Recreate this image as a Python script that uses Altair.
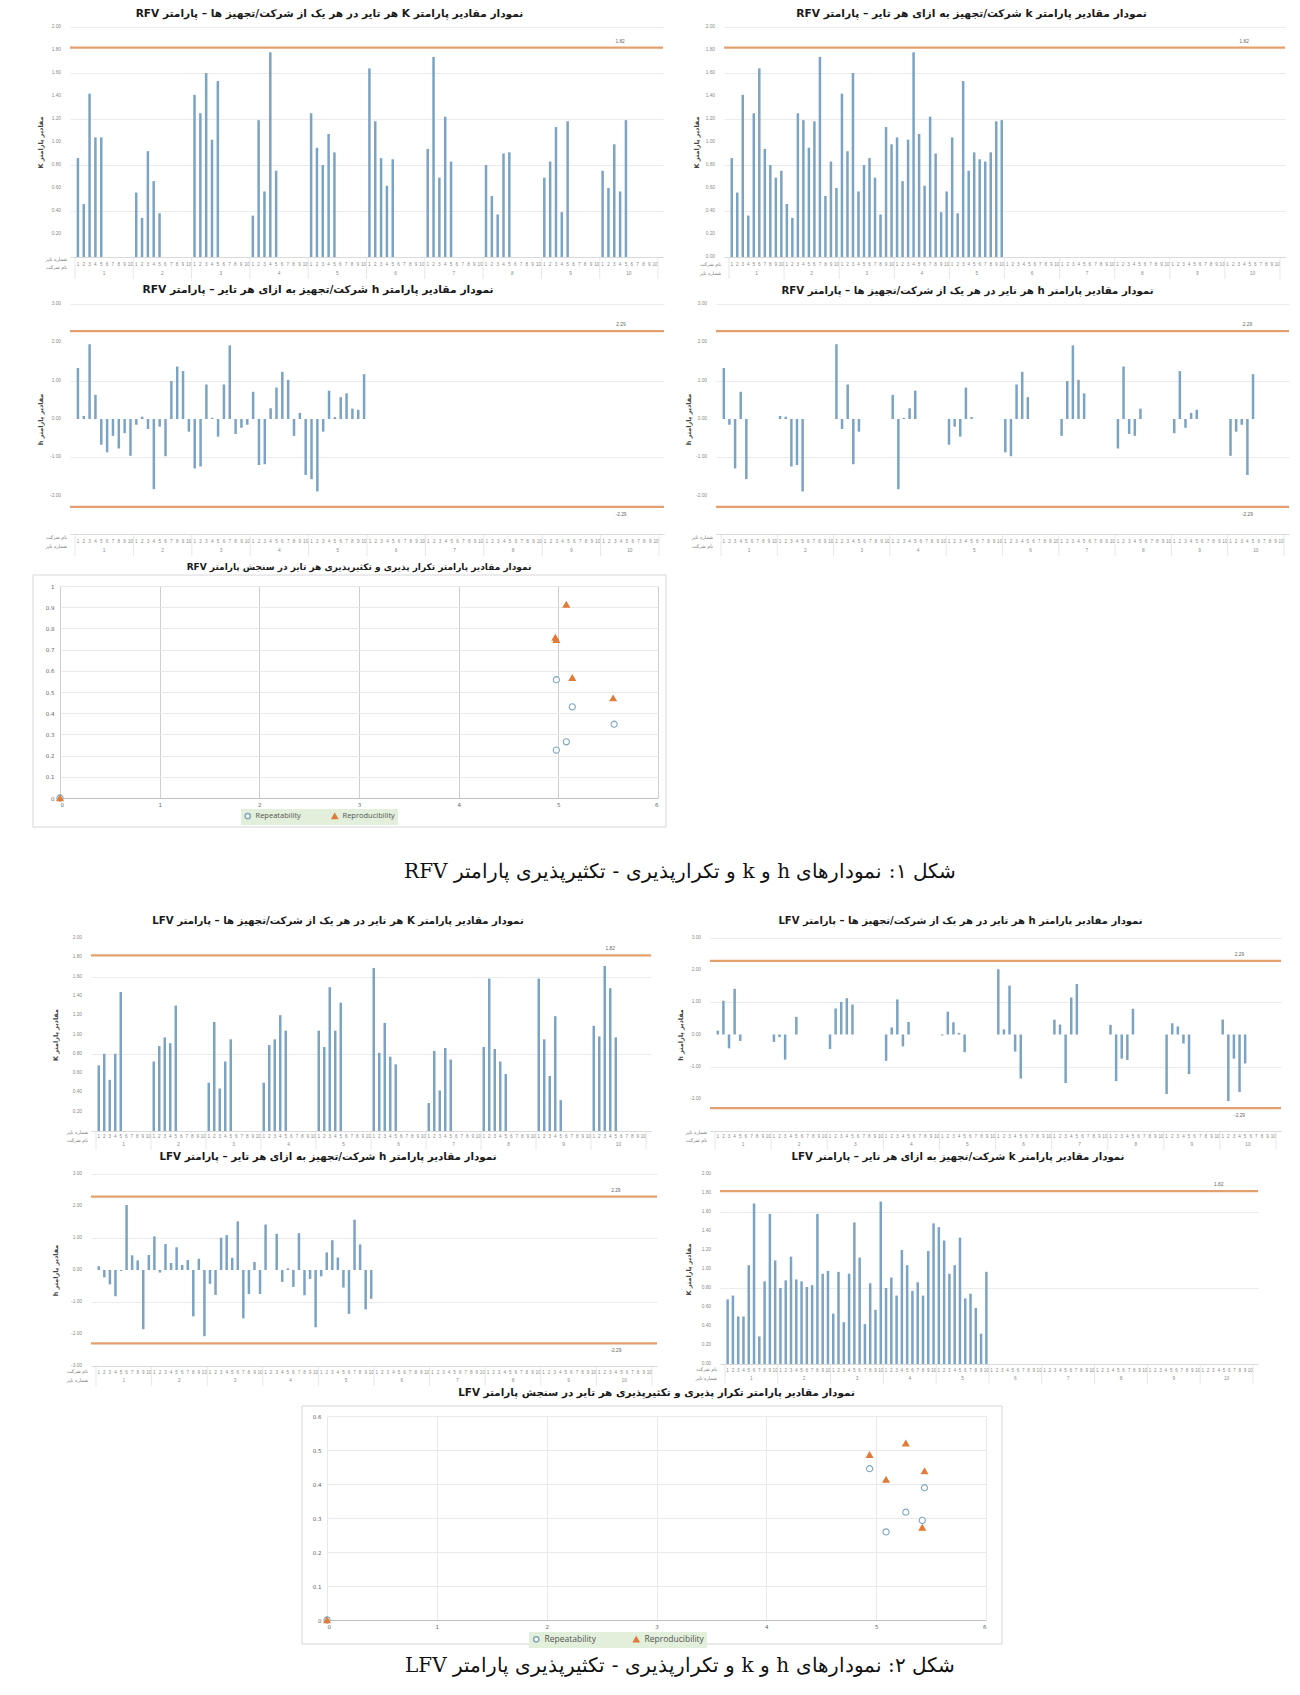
import altair as alt
import pandas as pd

# ---------------- data (rows = tire number, entries = company 1..10) ----------------
RFV_K_T1 = [0.86, 0.56, 1.41, 0.36, 1.25, 1.64, 0.94, 0.80, 0.69, 0.75]
RFV_K_T2 = [0.46, 0.34, 1.25, 1.19, 0.95, 1.18, 1.74, 0.53, 0.83, 0.60]
RFV_K_T3 = [1.42, 0.92, 1.60, 0.57, 0.80, 0.86, 0.69, 0.37, 1.13, 0.98]
RFV_K_T4 = [1.04, 0.66, 1.02, 1.78, 1.07, 0.62, 1.22, 0.90, 0.39, 0.57]
RFV_K_T5 = [1.04, 0.38, 1.53, 0.75, 0.91, 0.85, 0.83, 0.91, 1.18, 1.19]

RFV_H_T1 = [1.33, 0.08, 1.95, 0.63, -0.67, -0.87, -0.44, -0.77, -0.37, -0.96]
RFV_H_T2 = [-0.15, 0.06, -0.26, -1.83, -0.20, -0.97, 0.99, 1.37, 1.25, -0.33]
RFV_H_T3 = [-1.29, -1.24, 0.90, 0.03, -0.46, 0.90, 1.92, -0.39, -0.23, -0.15]
RFV_H_T4 = [0.71, -1.20, -1.18, 0.28, 0.82, 1.23, 1.02, -0.44, 0.16, -1.46]
RFV_H_T5 = [-1.57, -1.89, -0.33, 0.74, 0.05, 0.57, 0.67, 0.27, 0.24, 1.17]

LFV_K_T1 = [0.68, 0.72, 0.50, 0.50, 1.04, 1.69, 0.29, 0.87, 1.58, 1.09]
LFV_K_T2 = [0.80, 0.88, 1.13, 0.89, 0.87, 0.81, 0.83, 1.58, 0.95, 0.98]
LFV_K_T3 = [0.53, 0.97, 0.44, 0.95, 1.49, 1.12, 0.42, 0.85, 0.57, 1.71]
LFV_K_T4 = [0.80, 0.91, 0.72, 1.20, 1.04, 0.77, 0.86, 0.72, 1.19, 1.48]
LFV_K_T5 = [1.44, 1.30, 0.95, 1.04, 1.33, 0.69, 0.74, 0.59, 0.32, 0.97]

LFV_H_T1 = [0.12, -0.23, -0.45, -0.82, -0.03, 2.03, 0.46, 0.30, -1.85, 0.47]
LFV_H_T2 = [1.05, -0.08, 0.81, 0.22, 0.71, 0.16, 0.31, -1.45, 0.35, -2.07]
LFV_H_T3 = [-0.43, -0.78, 1.01, 1.09, 0.38, 1.52, -1.51, -0.75, 0.25, -0.75]
LFV_H_T4 = [1.42, 0.00, 1.13, -0.37, 0.05, -0.53, 1.15, -0.79, -0.28, -1.79]
LFV_H_T5 = [-0.20, 0.55, 0.93, 0.39, -0.55, -1.37, 1.57, 0.80, -1.23, -0.90]

K_LIMIT = [1.82]
H_LIMITS = [2.29, -2.29]

RFV_REP_X = [4.98, 5.14, 5.56, 5.08, 4.98, 0.0]
RFV_REP_Y = [0.558, 0.430, 0.348, 0.265, 0.226, 0.0]
RFV_REPRO_X = [5.08, 4.97, 4.98, 5.14, 5.55, 0.0]
RFV_REPRO_Y = [0.913, 0.757, 0.746, 0.567, 0.471, 0.0]

LFV_REP_X = [4.94, 5.44, 5.27, 5.42, 5.09, 0.0]
LFV_REP_Y = [0.445, 0.389, 0.317, 0.293, 0.259, 0.0]
LFV_REPRO_X = [4.94, 5.27, 5.44, 5.09, 5.42, 0.0]
LFV_REPRO_Y = [0.486, 0.520, 0.438, 0.413, 0.272, 0.0]

GROUP_LABELS = [str(i) for i in range(1, 11)]
SLOT_LABELS = [str(i) for i in range(1, 11)]
SERIES = ["Repeatability", "Reproducibility"]

T_P1 = "نمودار مقادیر پارامتر K هر تایر در هر یک از شرکت/تجهیز ها – پارامتر RFV"
T_P2 = "نمودار مقادیر پارامتر k شرکت/تجهیز به ازای هر تایر – پارامتر RFV"
T_P3 = "نمودار مقادیر پارامتر h  شرکت/تجهیز  به ازای هر تایر – پارامتر RFV"
T_P4 = "نمودار مقادیر پارامتر h هر تایر در هر یک از شرکت/تجهیز ها – پارامتر RFV"
T_P5 = "نمودار مقادیر پارامتر تکرار پذیری و تکثیرپذیری هر تایر در سنجش پارامتر RFV"
T_P6 = "نمودار مقادیر پارامتر K  هر تایر در هر یک از شرکت/تجهیز ها – پارامتر LFV"
T_P7 = "نمودار مقادیر پارامتر h هر تایر در هر یک از شرکت/تجهیز ها – پارامتر LFV"
T_P8 = "نمودار مقادیر پارامتر h  شرکت/تجهیز  به ازای هر تایر – پارامتر LFV"
T_P9 = "نمودار مقادیر پارامتر k شرکت/تجهیز به ازای هر تایر – پارامتر LFV"
T_P10 = "نمودار مقادیر پارامتر تکرار پذیری و تکثیرپذیری هر تایر در سنجش پارامتر LFV"
CAPTION1 = "شکل ۱: نمودارهای h و k و تکرارپذیری - تکثیرپذیری پارامتر RFV"
CAPTION2 = "شکل ۲: نمودارهای h و k و تکرارپذیری - تکثیرپذیری پارامتر LFV"
YT_K = "مقادیر پارامتر K"
YT_H = "مقادیر پارامتر h"
TIRE_NO = "شماره تایر"
COMPANY = "نام شرکت"

# ---------------- styling ----------------
FONT = "DejaVu Sans"
BAR = "#7ba3c3"
LIMIT = "#e3a06c"
GRID = "#e6e6e6"
LABEL = "#8a8a8a"
CIRC = "#7fa5bd"
ORANGE = "#e07b39"


def rtl(s):
    return "\u202b" + s + "\u202c"


def long_df(tires):
    rows = []
    for t, vals in enumerate(tires, start=1):
        for c, v in enumerate(vals, start=1):
            rows.append({"tire": t, "company": c, "value": v})
    return pd.DataFrame(rows)


RFV_K = long_df([RFV_K_T1, RFV_K_T2, RFV_K_T3, RFV_K_T4, RFV_K_T5])
RFV_H = long_df([RFV_H_T1, RFV_H_T2, RFV_H_T3, RFV_H_T4, RFV_H_T5])
LFV_K = long_df([LFV_K_T1, LFV_K_T2, LFV_K_T3, LFV_K_T4, LFV_K_T5])
LFV_H = long_df([LFV_H_T1, LFV_H_T2, LFV_H_T3, LFV_H_T4, LFV_H_T5])


def spacer(w, h=10):
    return alt.Chart(pd.DataFrame({"a": [0]})).mark_point(opacity=0).properties(
        width=w, height=h)


def bar_panel(df, group_by, title, ytitle, ydomain, ystep, limits, row_labels,
              W, H, yext, xext, hide_bottom, title_offset, title_dx, title_size=10.5,
              digit_dy=8, group_dy=17, label_dys=(3, 11), lim_pos=93.5, title_x=-30):
    d = df.copy()
    g = "company" if group_by == "company" else "tire"
    s = "tire" if group_by == "company" else "company"
    d["pos"] = (d[g] - 1) * 10 + d[s] - 0.5
    lo, hi = ydomain
    n = int(round((hi - lo) / ystep))
    ticks = [round(lo + i * ystep, 2) for i in range(n + 1)]
    xs = alt.Scale(domain=[0, 100], nice=False, zero=False)
    ys = alt.Scale(domain=[lo, hi], nice=False, zero=False)
    x_enc = alt.X("pos:Q", scale=xs, axis=alt.Axis(
        labels=False, ticks=False, grid=False, domainColor="#d9d9d9",
        title=None, minExtent=xext, maxExtent=xext))
    y_enc = alt.Y("value:Q", scale=ys, axis=alt.Axis(
        values=ticks, labels=False, grid=True, gridColor=GRID, gridWidth=0.8,
        domain=False, ticks=False, title=rtl(ytitle), titleFontSize=6.5,
        titleFont=FONT, titleColor="#444444", titleFontWeight="bold",
        titleX=title_x, titleY=H / 2, titleAngle=270, titleAlign="center",
        titleBaseline="middle", minExtent=yext, maxExtent=yext))
    bars = alt.Chart(d).mark_bar(size=2.5, color=BAR).encode(x=x_enc, y=y_enc)

    # y tick labels
    shown = [t for t in ticks if not (hide_bottom and t <= lo)]
    ylab_df = pd.DataFrame({"value": shown, "lab": [f"{t:.2f}" for t in shown]})
    ylabs = alt.Chart(ylab_df).mark_text(
        fontSize=4.8, color=LABEL, align="right", baseline="middle").encode(
        x=alt.value(-9), y=alt.Y("value:Q", scale=ys), text="lab:N")

    # x digit labels (slot numbers)
    dig_df = pd.DataFrame({"pos": [i + 0.5 for i in range(100)],
                           "lab": [SLOT_LABELS[i % 10] for i in range(100)]})
    digits = alt.Chart(dig_df).mark_text(fontSize=4.6, color=LABEL).encode(
        x=alt.X("pos:Q", scale=xs), y=alt.value(H + digit_dy), text="lab:N")

    lim_df = pd.DataFrame({"value": limits, "pos": [lim_pos] * len(limits),
                           "lab": [f"{v:.2f}" for v in limits]})
    rule = alt.Chart(lim_df).mark_rule(color=LIMIT, strokeWidth=2.2).encode(
        y=alt.Y("value:Q", scale=ys))
    up = alt.Chart(lim_df[lim_df["value"] > 0]).mark_text(
        fontSize=4.8, color="#666666", dy=-6).encode(
        x=alt.X("pos:Q", scale=xs), y=alt.Y("value:Q", scale=ys), text="lab:N")
    layers = [bars, ylabs, digits, rule, up]
    if (lim_df["value"] < 0).any():
        down = alt.Chart(lim_df[lim_df["value"] < 0]).mark_text(
            fontSize=4.8, color="#666666", dy=8).encode(
            x=alt.X("pos:Q", scale=xs), y=alt.Y("value:Q", scale=ys), text="lab:N")
        layers.append(down)

    div_df = pd.DataFrame({"pos": [10.0 * i for i in range(11)]})
    dividers = alt.Chart(div_df).mark_rule(color="#dcdcdc", strokeWidth=0.7).encode(
        x=alt.X("pos:Q", scale=xs), y=alt.value(H), y2=alt.value(H + group_dy + 5))
    grp_df = pd.DataFrame({"pos": [10.0 * i + 5 for i in range(10)], "lab": GROUP_LABELS})
    groups = alt.Chart(grp_df).mark_text(fontSize=4.8, color=LABEL).encode(
        x=alt.X("pos:Q", scale=xs), y=alt.value(H + group_dy), text="lab:N")
    layers += [dividers, groups]
    for lab, dy in zip(row_labels, label_dys):
        rl = alt.Chart(pd.DataFrame({"lab": [lab]})).mark_text(
            fontSize=4.8, color="#777777", align="right", font=FONT).encode(
            x=alt.value(-3), y=alt.value(H + dy), text="lab:N")
        layers.append(rl)

    return alt.layer(*layers).properties(
        width=W, height=H,
        title=alt.TitleParams(rtl(title), fontSize=title_size, font=FONT,
                              fontWeight="bold", anchor="middle", frame="group",
                              offset=title_offset, dx=title_dx, color="#1a1a1a"))


def scatter_panel(rx, ry, px, py, title, ymax, W, H, yext, lx, ly, vgrid,
                  title_offset, title_size, frame, lab_size=7.5, col_pad=28):
    rows = [{"series": SERIES[0], "x": a, "y": b} for a, b in zip(rx, ry)]
    rows += [{"series": SERIES[1], "x": a, "y": b} for a, b in zip(px, py)]
    df = pd.DataFrame(rows)
    n = int(round(ymax / 0.1))
    yt = [round(0.1 * i, 1) for i in range(n + 1)]
    xsc = alt.Scale(domain=[0, 6], nice=False)
    ysc = alt.Scale(domain=[0, ymax], nice=False)
    pts = alt.Chart(df).mark_point(size=38, strokeWidth=1.1, opacity=1).encode(
        x=alt.X("x:Q", scale=xsc, axis=alt.Axis(
            values=[0, 1, 2, 3, 4, 5, 6], labelFontSize=5.5, labelColor="#666666",
            grid=True, gridColor=vgrid, gridWidth=0.9, ticks=False,
            domainColor="#bfbfbf", title=None, labelPadding=4)),
        y=alt.Y("y:Q", scale=ysc, axis=alt.Axis(
            values=yt, format="~g", labelFontSize=5.5, labelColor="#666666",
            grid=True, gridColor=GRID, gridWidth=0.9, ticks=False, domain=False,
            title=None, labelPadding=6, minExtent=yext, maxExtent=yext)),
        color=alt.Color("series:N", scale=alt.Scale(domain=SERIES, range=[CIRC, ORANGE]),
                        legend=alt.Legend(orient="none", legendX=lx, legendY=ly,
                                          direction="horizontal", title=None,
                                          fillColor="#e2efda", padding=3,
                                          labelFontSize=lab_size, labelColor="#555555",
                                          labelFont="Open Sans", symbolSize=28,
                                          columnPadding=col_pad)),
        shape=alt.Shape("series:N", scale=alt.Scale(domain=SERIES,
                                                    range=["circle", "triangle-up"])),
        fill=alt.Fill("series:N", scale=alt.Scale(domain=SERIES,
                                                  range=["#ffffff", ORANGE])),
    )
    fl, fr, ft, fb = frame
    box = alt.Chart(pd.DataFrame({"a": [0]})).mark_rect(
        fillOpacity=0, stroke="#d6d6d6", strokeWidth=1).encode(
        x=alt.value(fl), x2=alt.value(W + fr), y=alt.value(ft), y2=alt.value(H + fb))
    return alt.layer(box, pts).properties(
        width=W, height=H,
        title=alt.TitleParams(rtl(title), fontSize=title_size, font=FONT,
                              fontWeight="bold", anchor="middle", frame="group",
                              offset=title_offset, color="#1a1a1a"))


def caption(text, H, ty):
    return alt.Chart(pd.DataFrame({"t": [rtl(text)]})).mark_text(
        fontSize=20, font="DejaVu Serif", color="#111111").encode(
        x=alt.value(665), y=alt.value(ty), text="t:N").properties(width=1270, height=H)


p1 = bar_panel(RFV_K, "company", T_P1, YT_K, (0, 2), 0.2, K_LIMIT, [TIRE_NO, COMPANY],
               W=593, H=230, yext=46, xext=27, hide_bottom=True, title_offset=4,
               title_dx=-37, title_size=10.6)
p2 = bar_panel(RFV_K, "tire", T_P2, YT_K, (0, 2), 0.2, K_LIMIT, [COMPANY, TIRE_NO],
               W=561, H=230, yext=59, xext=27, hide_bottom=False, title_offset=4,
               title_dx=-33, title_size=10.7, label_dys=(8, 17), title_x=-28)
p3 = bar_panel(RFV_H, "tire", T_P3, YT_H, (-3, 3), 1.0, H_LIMITS, [COMPANY, TIRE_NO],
               W=594, H=230, yext=46, xext=28, hide_bottom=True, title_offset=5,
               title_dx=-49, title_size=10.7, label_dys=(4, 13))
p4 = bar_panel(RFV_H, "company", T_P4, YT_H, (-3, 3), 1.0, H_LIMITS, [TIRE_NO, COMPANY],
               W=573, H=230, yext=50, xext=28, hide_bottom=True, title_offset=5,
               title_dx=-35, title_size=10.2, label_dys=(4, 13), title_x=-28)
p5 = scatter_panel(RFV_REP_X, RFV_REP_Y, RFV_REPRO_X, RFV_REPRO_Y, T_P5, 1.0,
                   W=598, H=212, yext=45, lx=230, ly=223, vgrid="#c8c8c8",
                   title_offset=3, title_size=9, frame=(-27, 8, -11, 29))
cap1 = caption(CAPTION1, 87, 44)
p6 = bar_panel(LFV_K, "company", T_P6, YT_K, (0, 2), 0.2, K_LIMIT, [TIRE_NO, COMPANY],
               W=560, H=193, yext=46, xext=19, hide_bottom=True, title_offset=9,
               title_dx=-33, title_size=10.2, digit_dy=6,
               group_dy=14, label_dys=(2, 10), title_x=-36)
p7 = bar_panel(LFV_H, "company", T_P7, YT_H, (-3, 3), 1.0, H_LIMITS, [TIRE_NO, COMPANY],
               W=571, H=193, yext=57, xext=19, hide_bottom=True, title_offset=9,
               title_dx=-35, title_size=10, digit_dy=6,
               group_dy=14, label_dys=(2, 10), title_x=-30)
p8 = bar_panel(LFV_H, "tire", T_P8, YT_H, (-3, 3), 1.0, H_LIMITS, [COMPANY, TIRE_NO],
               W=566, H=192, yext=46, xext=22, hide_bottom=False, title_offset=9,
               title_dx=-46, title_size=10.3, digit_dy=7,
               group_dy=15, label_dys=(6, 15), title_x=-36)
p9 = bar_panel(LFV_K, "tire", T_P9, YT_K, (0, 2), 0.2, K_LIMIT, [COMPANY, TIRE_NO],
               W=538, H=190, yext=61, xext=22, hide_bottom=False, title_offset=9,
               title_dx=-31, title_size=10.2, digit_dy=7,
               group_dy=15, label_dys=(6, 15), title_x=-32)
p10 = scatter_panel(LFV_REP_X, LFV_REP_Y, LFV_REPRO_X, LFV_REPRO_Y, T_P10, 0.6,
                    W=659, H=204, yext=30, lx=518, ly=216, vgrid=GRID,
                    title_offset=7, title_size=10.4, frame=(-25, 16, -10, 24),
                    lab_size=8.5, col_pad=34)
cap2 = caption(CAPTION2, 50, 18)

row1 = alt.hconcat(spacer(13), p1, p2, spacing=0)
row2 = alt.hconcat(spacer(13), p3, p4, spacing=0)
row3 = alt.hconcat(spacer(1), p5, spacing=0)
row_c1 = alt.hconcat(spacer(1), cap1, spacing=0)
row4 = alt.hconcat(spacer(34), p6, p7, spacing=0)
row5 = alt.hconcat(spacer(34), p8, p9, spacing=0)
row6 = alt.hconcat(spacer(286), p10, spacing=0)
row_c2 = alt.hconcat(spacer(1), cap2, spacing=0)

chart = alt.concat(row1, row2, row3, row_c1, row4, row5, row6, row_c2,
                   columns=1, spacing=0, align="none").properties(
    padding=0, background="white"
).resolve_scale(color="independent", shape="independent", fill="independent"
).resolve_legend(color="independent", shape="independent", fill="independent"
).configure_view(strokeWidth=0).configure_axis(labelFont="DejaVu Sans")

chart.save("out.html", embed_options={"renderer": "svg", "actions": False})
